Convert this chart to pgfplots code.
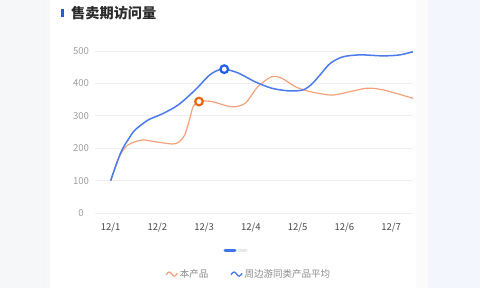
\documentclass[border=0pt]{standalone}
\usepackage{fontspec}
\setmainfont{Noto Sans CJK SC}
\usepackage{pgfplots}
\pgfplotsset{compat=1.18}
\definecolor{bgleft}{HTML}{F6F7F9}
\definecolor{bgright}{HTML}{F4F6FD}
\definecolor{bline}{HTML}{4B7BEC}
\definecolor{bmark}{HTML}{1D5FE6}
\definecolor{oline}{HTML}{F5A27C}
\definecolor{omark}{HTML}{E9660F}
\definecolor{gridc}{HTML}{EFEFEF}
\definecolor{ylab}{HTML}{A0A0A0}
\definecolor{xlab}{HTML}{4A4A4A}
\definecolor{titlec}{HTML}{2B2B2B}
\definecolor{legc}{HTML}{8C8C8C}
\definecolor{barblue}{HTML}{1F5BE0}
\definecolor{pillgray}{HTML}{E6E8EE}
\begin{document}
\begin{tikzpicture}[x=1pt,y=1pt]
% backgrounds
\fill[bgleft] (0,0) rectangle (480,288);
\fill[bgright] (428,0) rectangle (480,288);
\fill[white!97!gray] (416,0) rectangle (428,288);
\draw[white!92!gray, line width=0.8pt] (44,0) -- (44,288);
\fill[white] (50,0) rectangle (416,288);
% title
\fill[barblue] (60.5,271) rectangle (63.5,279);
\node[anchor=west, text=titlec, font=\fontsize{14.2}{16}\selectfont\bfseries, inner sep=0pt] at (71,274.5) {售卖期访问量};
% pagination
\draw[bmark!85!white, line width=3pt, line cap=round] (225,37) -- (235,37);
\draw[pillgray, line width=3pt, line cap=round] (239,37) -- (246,37);
\begin{axis}[
  at={(95pt,75pt)}, anchor=south west,
  scale only axis, width=318pt, height=162pt,
  xmin=-0.336, xmax=6.47, ymin=0, ymax=500,
  xtick={0,1,2,3,4,5,6},
  xticklabels={12/1,12/2,12/3,12/4,12/5,12/6,12/7},
  ytick={0,100,200,300,400,500},
  axis line style={draw=none},
  tick style={draw=none},
  major tick length=0pt,
  ymajorgrids,
  grid style={gridc, line width=0.7pt},
  /pgf/number format/assume math mode=true,
  xticklabel style={anchor=center, yshift=-15pt, text=xlab, font=\fontsize{9.5}{10}\selectfont},
  yticklabel style={anchor=center, xshift=-14pt, text=ylab, font=\fontsize{9.6}{10}\selectfont},
  legend columns=2,
  legend style={at={(0.484,-0.377)}, anchor=center, draw=none, fill=none,
    font=\fontsize{9.5}{11}\selectfont, text=legc,
    /tikz/every even column/.append style={column sep=20pt}},
  legend cell align=left,
  legend image code/.code={\draw[#1, line width=1.3pt] (0pt,-0.8pt) .. controls (2pt,2.8pt) and (3.8pt,2.8pt) .. (5.5pt,0pt) .. controls (7.2pt,-2.8pt) and (9pt,-2.8pt) .. (11pt,0.8pt);},
]
\addplot[oline, line width=1.2pt, smooth, tension=0.5, mark=none] coordinates {
(0,100)(0.1,142)(0.2,179)(0.37,210)(0.66,225)(0.95,220)(1.31,213)(1.45,218)(1.58,240)(1.67,280)(1.77,330)(1.89,344)(2.16,344)(2.59,328)(2.88,339)(3.15,390)(3.45,421)(3.66,416)(3.95,390)(4.2,377)(4.5,368)(4.76,364)(5.11,374)(5.48,385)(5.83,380)(6.47,354)
};
\addlegendentry{本产品}
\addplot[bline, line width=1.5pt, smooth, tension=0.5, mark=none] coordinates {
(0,100)(0.12,150)(0.24,194)(0.38,228)(0.52,256)(0.8,287)(1.09,305)(1.44,333)(1.81,380)(2.08,421)(2.25,438)(2.43,444)(2.73,432)(3.09,405)(3.45,385)(3.8,377)(4.05,378)(4.18,384)(4.32,400)(4.48,426)(4.7,462)(4.97,482)(5.34,488)(5.83,485)(6.19,488)(6.47,498)
};
\addlegendentry{周边游同类产品平均}
\addplot[forget plot, only marks, mark=*, mark size=3.8pt, mark options={draw=omark, fill=white, line width=2.2pt}] coordinates {(1.89,344)};
\addplot[forget plot, only marks, mark=*, mark size=3.8pt, mark options={draw=bmark, fill=white, line width=2.2pt}] coordinates {(2.43,444)};
\end{axis}
\pgfresetboundingbox
\useasboundingbox (0,0) rectangle (480,288);
\end{tikzpicture}
\end{document}
